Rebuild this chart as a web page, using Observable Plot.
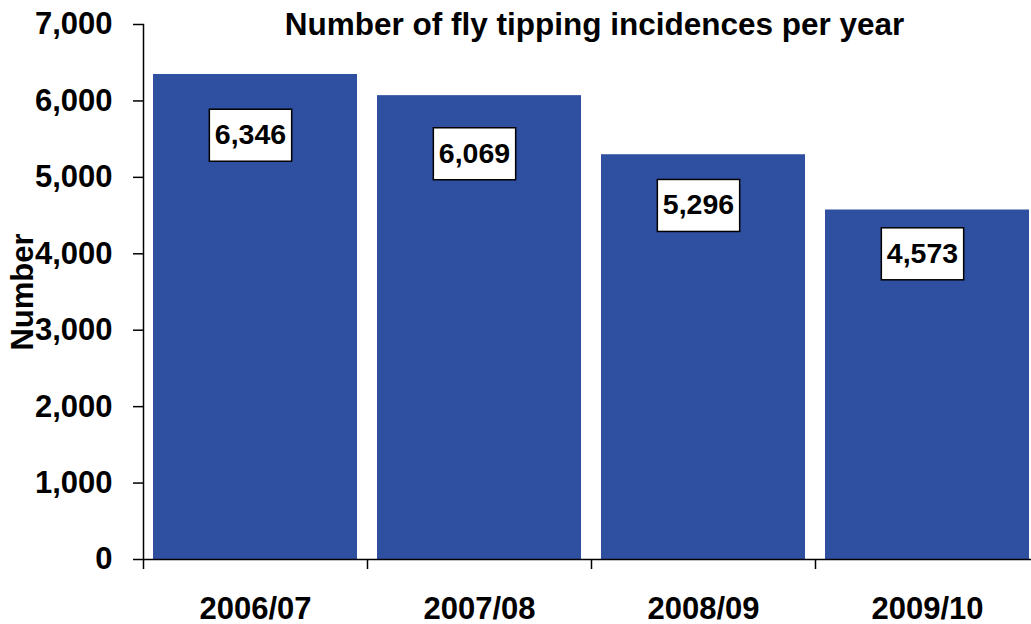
<!DOCTYPE html>
<html>
<head>
<meta charset="utf-8">
<script src="https://cdn.jsdelivr.net/npm/d3@7"></script>
<script src="https://cdn.jsdelivr.net/npm/@observablehq/plot@0.6"></script>
<style>
  html, body { margin: 0; padding: 0; background: #ffffff; }
  svg { display: block; }
</style>
</head>
<body>
<div id="chart"></div>
<script>
// ---- data ----
const years = ["2006/07", "2007/08", "2008/09", "2009/10"];
const counts = [6346, 6069, 5296, 4573];
const yTicks = [0, 1000, 2000, 3000, 4000, 5000, 6000, 7000];
const title = "Number of fly tipping incidences per year";
const yLabel = "Number";

// ---- layout ----
const W = 1031, H = 624;
const mTop = 24, mBottom = 65, mLeft = 143, mRight = 0;
const plotH = H - mTop - mBottom;
const xRange = [mLeft, mLeft + 896];
const step = (xRange[1] - xRange[0]) / years.length;
const FONT = "'Liberation Sans', Arial, Helvetica, sans-serif";
const FS_TITLE = 31.5, FS_TICK = 31, FS_LABEL = 28.5, FS_YLAB = 31;
const barColor = "#2f4fa0";

const data = years.map((year, i) => ({year, count: counts[i]}));
const fmt = d3.format(",");

const chart = Plot.plot({
  width: W,
  height: H,
  marginTop: mTop,
  marginBottom: mBottom,
  marginLeft: mLeft,
  marginRight: mRight,
  style: {fontFamily: FONT, fontWeight: "bold", fontSize: FS_TICK + "px", color: "#000", background: "#fff", overflow: "visible"},
  x: {domain: years, range: xRange, paddingInner: 0.09, paddingOuter: 0.045, align: 0.5},
  y: {domain: [0, 7000]},
  marks: [
    Plot.barY(data, {x: "year", y: "count", fill: barColor}),
    Plot.frame({anchor: "left", stroke: "#000", strokeWidth: 1.5}),
    Plot.ruleY([0], {stroke: "#000", strokeWidth: 1.5}),
    Plot.ruleX(years, {x: d => d, dx: -step / 2, insetTop: plotH, insetBottom: -10, stroke: "#000", strokeWidth: 1.5}),
    Plot.axisY({ticks: yTicks, tickFormat: fmt, tickSize: 10, tickPadding: 21, label: null, fontSize: FS_TICK, fontWeight: "bold", strokeWidth: 1.5}),
    Plot.axisX({tickSize: 0, tickPadding: 37, label: null, fontSize: FS_TICK, fontWeight: "bold"}),
    Plot.text(data, {
      x: "year", y: d => d.count * 0.875, text: d => fmt(d.count), dx: -5,
      fontSize: FS_LABEL, fontWeight: "bold", fill: "#000", lineAnchor: "middle",
      render(index, scales, values, dims, ctx, next) {
        const g = next(index, scales, values, dims, ctx);
        g.classList.add("vlabels");
        return g;
      }
    }),
    Plot.text([title], {frameAnchor: "top", text: d => d, dx: 7, dy: 0.5, lineAnchor: "middle", textAnchor: "middle", fontSize: FS_TITLE, fontWeight: "bold", fill: "#000"}),
    Plot.text([yLabel], {frameAnchor: "left", text: d => d, rotate: -90, dx: -120, lineAnchor: "middle", textAnchor: "middle", fontSize: FS_YLAB, fontWeight: "bold", fill: "#000"})
  ]
});

document.getElementById("chart").append(chart);

// white boxes with black border behind the value labels
const svg = chart.tagName.toLowerCase() === "svg" ? chart : chart.querySelector("svg");
svg.querySelectorAll("g.vlabels text").forEach(t => {
  const bb = t.getBBox();
  const padX = 5.5, boxH = 52;
  const cy = bb.y + bb.height / 2 + 1;
  const r = document.createElementNS("http://www.w3.org/2000/svg", "rect");
  r.setAttribute("x", bb.x - padX);
  r.setAttribute("y", cy - boxH / 2);
  r.setAttribute("width", bb.width + 2 * padX);
  r.setAttribute("height", boxH);
  r.setAttribute("fill", "#fff");
  r.setAttribute("stroke", "#000");
  r.setAttribute("stroke-width", 1.5);
  const tr = t.getAttribute("transform");
  if (tr) r.setAttribute("transform", tr);
  t.parentNode.insertBefore(r, t);
});
</script>
</body>
</html>
